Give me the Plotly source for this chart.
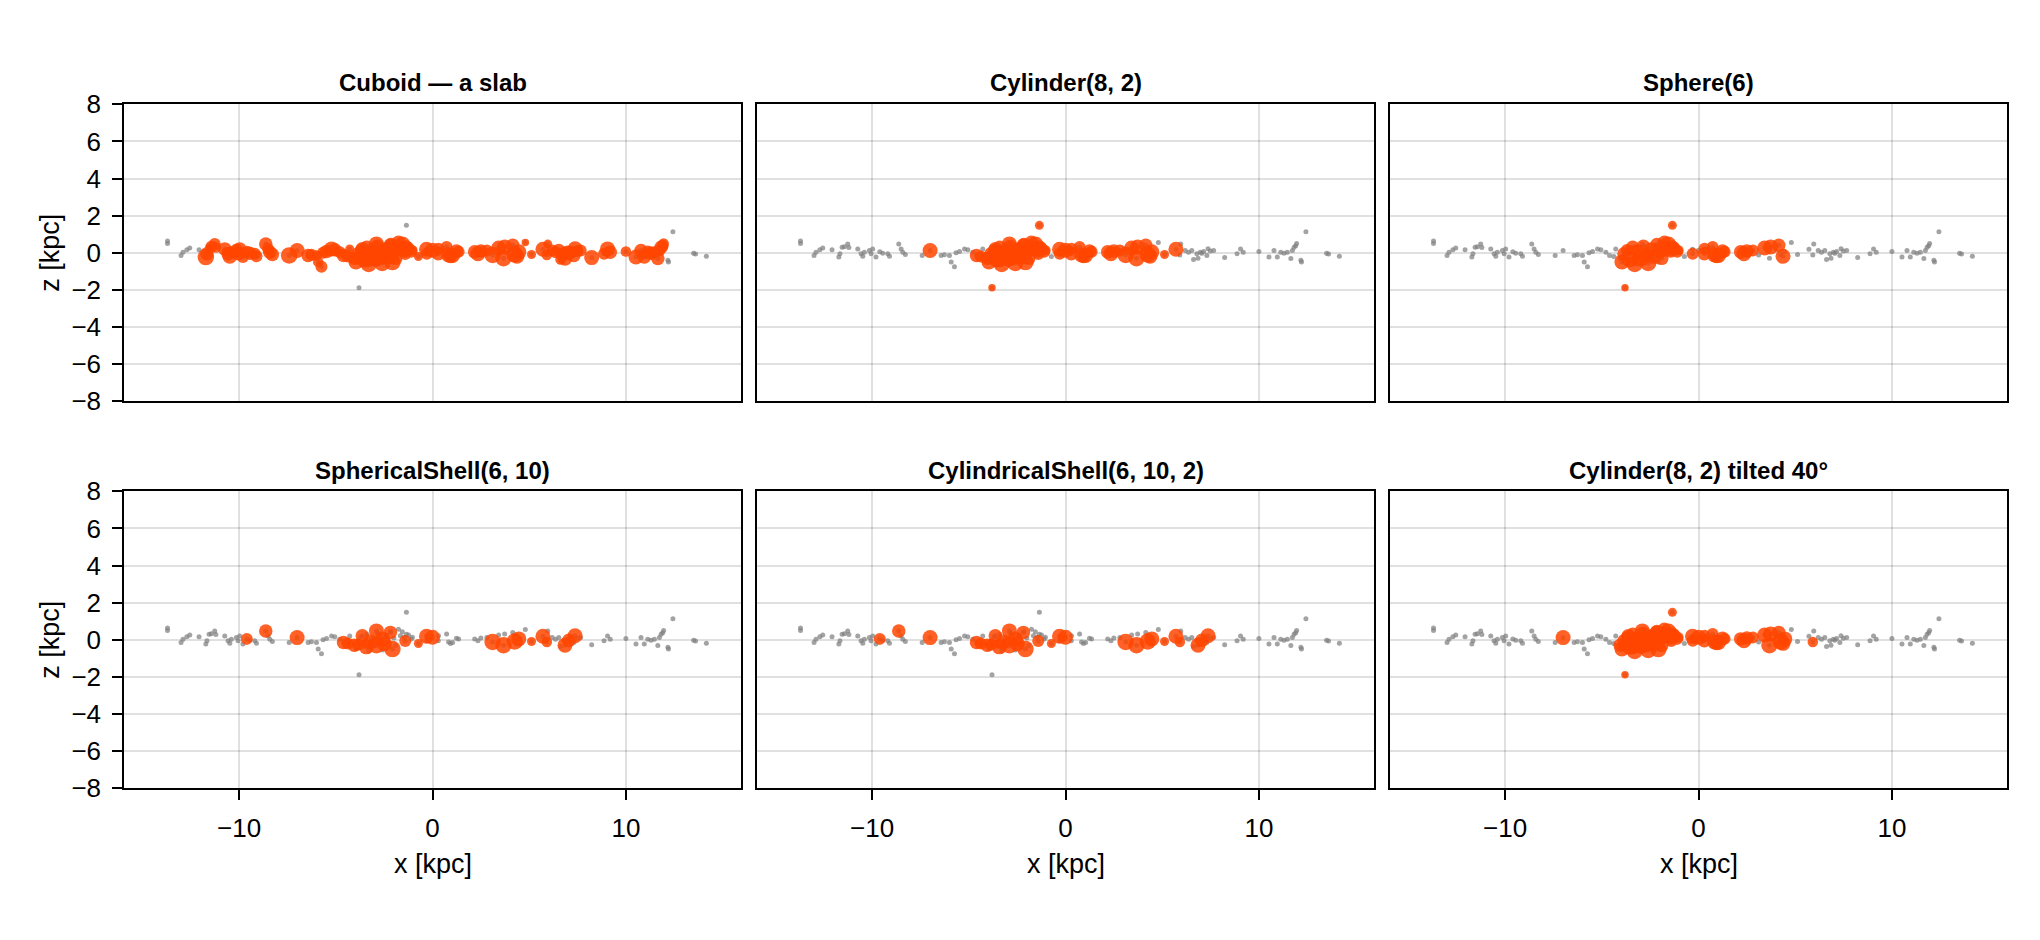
import plotly.graph_objects as go

# panel titles (row-major)
TITLES = [
    "Cuboid — a slab", "Cylinder(8, 2)", "Sphere(6)",
    "SphericalShell(6, 10)", "CylindricalShell(6, 10, 2)", "Cylinder(8, 2) tilted 40°",
]

X_TICKS = [-10, 0, 10]
Z_TICKS = [-8, -6, -4, -2, 0, 2, 4, 6, 8]

# object positions (kpc), grouped left to right
X = [
    # far left, outside every region
    -13.70, -13.70, -13.00, -12.90, -12.70, -12.55, -12.07,
    # left arm
    -11.72, -11.66, -11.55, -11.43, -11.26, -11.20, -10.74, -10.57, -10.48, -10.40,
    -10.14, -10.05, -9.97, -9.80, -9.60, -9.45, -9.19, -9.10, -8.62, -8.50,
    -8.41, -8.28, -7.41,
    # inner left
    -7.00, -6.43, -6.26, -6.00, -5.91, -5.74, -5.66, -5.48, -5.22, -5.05,
    -4.79, -4.28, -4.60, -4.38,
    # central clump (near side)
    -3.96, -3.85, -3.70, -3.55, -3.40, -3.30, -3.15, -3.00, -2.85, -2.70,
    -2.60, -2.45, -2.30, -2.15, -2.00, -1.90, -1.76, -1.66, -1.56, -1.45,
    -1.35, -1.24, -1.10, -1.04,
    # central clump (far side)
    -4.05, -3.84, -3.63, -3.42, -3.22, -2.90, -2.90, -2.59, -2.49, -2.18,
    -2.07, -1.41,
    # off-plane
    -3.80, -1.35,
    # inner right
    -0.73, -0.31, -0.30, 0.00, 0.31, 0.30, 0.73, 0.83, 0.93, 1.04,
    1.24, 1.35, 2.18, 2.35, 2.50, 2.81, 3.11, 3.42, 3.67, 3.73,
    4.15, 4.25, 4.37, 4.46, 4.80, 5.12, 5.71, 5.91,
    # right arm
    5.96, 6.19, 6.36, 6.53, 6.62, 6.79, 6.85, 6.97, 7.05, 7.14,
    7.31, 7.37, 7.49, 7.66, 8.23, 8.87, 9.05, 9.19, 10.00, 10.52,
    10.78, 10.95, 11.13, 11.30, 11.47, 11.65, 11.73, 11.82, 11.90, 11.95,
    # far right
    12.17, 12.20, 12.43, 13.50, 13.60, 14.16,
]

Z = [
    0.64, 0.50, -0.14, 0.03, 0.16, 0.26, 0.16,
    -0.23, -0.05, 0.30, 0.33, 0.48, 0.28, 0.21, -0.05, -0.19, 0.03,
    0.12, -0.05, 0.21, -0.23, 0.05, -0.02, -0.05, -0.19, 0.47, 0.21,
    0.03, -0.09, -0.14,
    0.12, -0.14, -0.10, -0.14, -0.49, -0.75, 0.00, 0.07, 0.21, 0.16,
    0.03, 0.21, -0.15, -0.20,
    -0.49, -0.05, 0.15, -0.35, 0.30, -0.60, 0.05, -0.30, 0.35, -0.15,
    -0.55, 0.20, -0.20, 0.45, 0.10, -0.30, 0.57, 0.22, 0.43, 0.14,
    0.30, 0.26, 0.05, 0.14,
    -0.29, -0.26, 0.22, -0.38, -0.12, 0.48, -0.29, 0.05, -0.21, 0.40,
    -0.50, -0.07,
    -1.88, 1.48,
    -0.20, 0.19, -0.05, 0.14, 0.22, -0.05, 0.31, -0.12, -0.20, -0.14,
    0.09, 0.05, 0.05, -0.05, 0.10, 0.12, -0.12, 0.26, -0.29, 0.31,
    0.40, -0.09, -0.19, 0.05, 0.56, -0.09, 0.19, -0.12,
    0.47, 0.12, 0.03, 0.12, -0.36, -0.05, -0.29, 0.03, -0.03, 0.07,
    -0.14, 0.22, 0.09, 0.12, -0.26, -0.05, 0.21, 0.03, 0.07, -0.23,
    0.12, -0.23, 0.03, -0.02, 0.03, -0.31, 0.12, 0.30, 0.38, 0.50,
    -0.40, -0.49, 1.13, -0.03, -0.07, -0.19,
]

# relative marker size when highlighted
SIZE = [
    5, 5, 5, 5, 5, 5, 5,
    11, 9, 5, 8, 8, 7, 9, 9, 10, 8,
    9, 9, 9, 8, 8, 9, 8, 8, 9, 8,
    9, 9, 11,
    10, 9, 8, 7, 7, 8, 8, 9, 10, 9,
    8, 6, 9, 8,
    10, 9, 8, 11, 9, 11, 10, 11, 9, 10,
    11, 9, 10, 9, 10, 9, 9, 10, 11, 10,
    9, 8, 8, 7,
    9, 8, 9, 10, 10, 10, 11, 10, 10, 9,
    11, 8,
    5, 6,
    6, 10, 8, 10, 8, 9, 8, 10, 9, 10,
    9, 8, 9, 10, 9, 8, 11, 10, 11, 10,
    9, 11, 10, 10, 5, 6, 10, 7,
    6, 8, 8, 9, 7, 9, 10, 9, 9, 8,
    9, 10, 8, 8, 10, 8, 10, 9, 7, 10,
    9, 9, 9, 9, 8, 9, 8, 9, 8, 7,
    5, 5, 5, 5, 5, 5,
]

# membership flags, one character per panel (1 = inside that region)
MEMBER = (
    ["000000"] * 7
    + ["100000"] * 14 + ["100110"] + ["100000"] * 3 + ["100110"] + ["100000"] * 4
    + ["110111"] + ["100000"] * 11 + ["110110"] * 2
    + ["111001"] * 24
    + ["110111"] * 12
    + ["011001"] * 2
    + ["100110", "110111", "111001", "110111", "111001", "111001", "111001", "111001", "111001", "111001",
       "111001", "111001", "111001", "111001", "111001", "111001", "110110", "111001", "110111", "111001",
       "111001", "110111", "111001", "110111", "100000", "110110", "110110", "100111"]
    + ["100000"] * 6 + ["100110"] + ["100000"] + ["100110"] + ["100000"] * 2 + ["100110"] + ["100000"] * 18
    + ["000000"] * 6
)

assert len(X) == len(Z) == len(SIZE) == len(MEMBER)

# page is 2040x940, the plot div sits inside the default 8px body margin
PAGE_W, PAGE_H, OFF = 2040, 940, 8
W, H = PAGE_W - 2 * OFF, PAGE_H - 2 * OFF
COL_PX = [(124, 741), (757, 1374), (1390, 2007)]
ROW_PX = [(92, 399), (492, 799)]
X_RANGE = [-15.95, 15.95]
FONT = "Liberation Sans, Arial, sans-serif"
GRID = "rgba(0,0,0,0.12)"
SIZE_SCALE = 1.5


def px(x):
    return (x - OFF) / W


def py(y):
    return 1 - (y - OFF) / H


fig = go.Figure()
annotations = []
axis_common = dict(
    ticklen=10, tickwidth=1.5, tickcolor="black", ticklabelstandoff=6,
    showgrid=True, gridcolor=GRID, gridwidth=1.5, zeroline=False,
    showline=True, linecolor="black", linewidth=1.5, mirror=True,
    tickfont=dict(size=26, color="black", family=FONT),
)

for p, title in enumerate(TITLES):
    row, col = divmod(p, 3)
    n = p + 1
    xa, ya = f"x{n}" if n > 1 else "x", f"y{n}" if n > 1 else "y"
    x0, x1 = COL_PX[col]
    y0, y1 = ROW_PX[row]

    fig.add_trace(go.Scatter(
        x=X, y=Z, mode="markers", xaxis=xa, yaxis=ya, showlegend=False, hoverinfo="skip",
        marker=dict(size=5, color="rgba(128,128,128,0.72)", line=dict(width=0)),
    ))
    sel = [i for i, m in enumerate(MEMBER) if m[p] == "1"]
    fig.add_trace(go.Scatter(
        x=[X[i] for i in sel], y=[Z[i] for i in sel], mode="markers",
        xaxis=xa, yaxis=ya, showlegend=False,
        marker=dict(size=[SIZE[i] * SIZE_SCALE for i in sel], color="orangered",
                    opacity=0.85, line=dict(width=0)),
    ))

    bottom, left = row == 1, col == 0
    fig.layout[f"xaxis{n if n > 1 else ''}"] = dict(
        domain=[px(x0), px(x1)], anchor=ya, range=X_RANGE,
        tickvals=X_TICKS, showticklabels=bottom, ticks="outside" if bottom else "",
        **axis_common,
    )
    fig.layout[f"yaxis{n if n > 1 else ''}"] = dict(
        domain=[py(y1), py(y0)], anchor=xa, range=[-8, 8],
        tickvals=Z_TICKS, showticklabels=left, ticks="outside" if left else "",
        **axis_common,
    )

    annotations.append(dict(
        text=f"<b>{title}</b>", x=px((x0 + x1) / 2), y=py(y0 - 22),
        xref="paper", yref="paper", showarrow=False, xanchor="center", yanchor="middle",
        font=dict(size=24, color="black", family=FONT),
    ))
    if bottom:
        annotations.append(dict(
            text="x [kpc]", x=px((x0 + x1) / 2), y=py(877),
            xref="paper", yref="paper", showarrow=False, xanchor="center", yanchor="middle",
            font=dict(size=27, color="black", family=FONT),
        ))
    if left:
        annotations.append(dict(
            text="z [kpc]", x=px(50), y=py((y0 + y1) / 2), textangle=-90,
            xref="paper", yref="paper", showarrow=False, xanchor="center", yanchor="middle",
            font=dict(size=27, color="black", family=FONT),
        ))

fig.update_layout(
    width=W, height=H, margin=dict(l=0, r=0, t=0, b=0),
    paper_bgcolor="white", plot_bgcolor="white",
    annotations=annotations, font=dict(family=FONT),
)

fig.write_html("out.html")
